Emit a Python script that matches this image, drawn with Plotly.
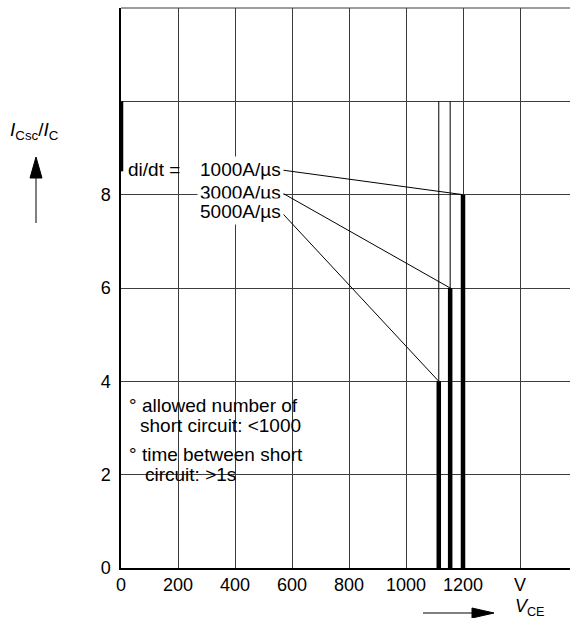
import plotly.graph_objects as go

# Short-circuit safe operating area: I_Csc/I_C limit versus V_CE for three di/dt values
rates = ["1000A/µs", "3000A/µs", "5000A/µs"]
vce_limit = [1200, 1155, 1115]        # V
ratio_limit = [8, 6, 4]               # I_Csc/I_C
label_y = [8.53, 8.05, 7.63]          # row of each di/dt label
label_end_x = 562                     # right end of the di/dt labels (V)
ratio_top = 10                        # upper end of the shared limit
ratio_start = 8.5                     # lower end of the marker on the y axis

x_ticks = [0, 200, 400, 600, 800, 1000, 1200, 1400]
x_tick_text = ["0", "200", "400", "600", "800", "1000", "1200", "V"]
y_ticks = [0, 2, 4, 6, 8, 10, 12]
y_tick_text = ["0", "2", "4", "6", "8", "", ""]

W, H = 570, 618
L, R, T, B = 121, 0, 8, 50
PW, PH = W - L - R, H - T - B
FONT = "Liberation Sans, Arial, sans-serif"
INK = "#000000"
GRID = "#3c3c3c"


def px(x):
    return (x - L) / PW


def py(y):
    return (H - B - y) / PH


fig = go.Figure()

# thick limit bars from 0 up to each limit
for v, r in zip(vce_limit, ratio_limit):
    fig.add_trace(go.Scatter(x=[v, v], y=[0, r], mode="lines",
                             line=dict(color=INK, width=4.5), hoverinfo="skip"))
# thin continuations up to the common ceiling
for v, r in zip(vce_limit[1:], ratio_limit[1:]):
    fig.add_trace(go.Scatter(x=[v, v], y=[r, ratio_top], mode="lines",
                             line=dict(color=INK, width=1), hoverinfo="skip"))
# leader lines from the di/dt labels to the corner of each limit
for v, r, ly in zip(vce_limit, ratio_limit, label_y):
    fig.add_trace(go.Scatter(x=[label_end_x, v], y=[ly, r], mode="lines",
                             line=dict(color=INK, width=1), hoverinfo="skip"))
# marker on the y axis
fig.add_trace(go.Scatter(x=[0, 0], y=[ratio_start, ratio_top], mode="lines",
                         line=dict(color=INK, width=4.5), hoverinfo="skip",
                         cliponaxis=False))

annotations = []
annotations.append(dict(x=18, y=label_y[0], text="di/dt =", showarrow=False,
                        xanchor="left", yanchor="middle",
                        font=dict(family=FONT, size=19, color=INK)))
for name, ly in zip(rates, label_y):
    annotations.append(dict(x=265, y=ly, text=name, showarrow=False,
                            xanchor="left", yanchor="middle", bgcolor="white",
                            borderpad=2,
                            font=dict(family=FONT, size=19, color=INK)))

notes = [
    (22, 3.49, "° allowed number of"),
    (61, 3.05, "short circuit: <1000"),
    (22, 2.44, "° time between short"),
    (78, 2.01, "circuit: >1s"),
]
for nx, ny, txt in notes:
    annotations.append(dict(x=nx, y=ny, text=txt, showarrow=False,
                            xanchor="left", yanchor="middle",
                            font=dict(family=FONT, size=19, color=INK)))

# axis titles
annotations.append(dict(xref="paper", yref="paper", x=px(34), y=py(131),
                        text="<i>I</i><sub>Csc</sub>/<i>I</i><sub>C</sub>",
                        showarrow=False, xanchor="center", yanchor="middle",
                        font=dict(family=FONT, size=19, color=INK)))
annotations.append(dict(xref="paper", yref="paper", x=px(530), y=py(607),
                        text="<i>V</i><sub>CE</sub>",
                        showarrow=False, xanchor="center", yanchor="middle",
                        font=dict(family=FONT, size=18, color=INK)))

shapes = [
    # top border of the grid
    dict(type="line", xref="paper", yref="paper", x0=0, x1=1, y0=1, y1=1,
         line=dict(color=GRID, width=1)),
    # x direction arrow
    dict(type="line", xref="paper", yref="paper", x0=px(423), x1=px(474),
         y0=py(613), y1=py(613), line=dict(color=INK, width=1)),
    dict(type="path", xref="paper", yref="paper",
         path=f"M {px(472)},{py(608)} L {px(494)},{py(613)} L {px(472)},{py(618)} Z",
         fillcolor=INK, line=dict(color=INK, width=1)),
    # y direction arrow
    dict(type="line", xref="paper", yref="paper", x0=px(36), x1=px(36),
         y0=py(223), y1=py(176), line=dict(color=INK, width=1)),
    dict(type="path", xref="paper", yref="paper",
         path=f"M {px(30)},{py(178)} L {px(36)},{py(157)} L {px(42)},{py(178)} Z",
         fillcolor=INK, line=dict(color=INK, width=1)),
]

fig.update_layout(
    width=W, height=H,
    margin=dict(l=L, r=R, t=T, b=B, pad=0),
    paper_bgcolor="white", plot_bgcolor="white",
    showlegend=False,
    annotations=annotations,
    shapes=shapes,
    font=dict(family=FONT, size=18, color=INK),
)
fig.update_xaxes(range=[0, PW / 57.0 * 200], tickvals=x_ticks, ticktext=x_tick_text,
                 showgrid=True, gridcolor=GRID, gridwidth=1, zeroline=False,
                 showline=True, linecolor=INK, linewidth=1.5, ticks="",
                 ticklabelstandoff=0, tickfont=dict(family=FONT, size=18, color=INK))
fig.update_yaxes(range=[0, 12], tickvals=y_ticks, ticktext=y_tick_text,
                 showgrid=True, gridcolor=GRID, gridwidth=1, zeroline=False,
                 showline=True, linecolor=INK, linewidth=1.5, ticks="",
                 ticklabelstandoff=5, tickfont=dict(family=FONT, size=18, color=INK))

fig.write_html("out.html")
